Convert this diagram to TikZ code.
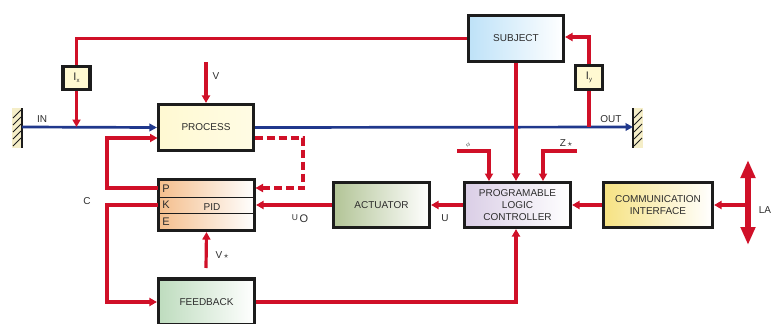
\documentclass[tikz,border=0pt]{standalone}
\usepackage{fontspec}
\setmainfont{Liberation Sans}
\usetikzlibrary{arrows.meta,calc}
\definecolor{cred}{RGB}{208,16,40}
\definecolor{cblue}{RGB}{32,56,140}
\definecolor{cbord}{RGB}{28,28,28}
\definecolor{ctext}{RGB}{45,45,45}
\definecolor{cyel}{RGB}{255,249,210}
\definecolor{cblu}{RGB}{190,226,248}
\definecolor{corg}{RGB}{244,190,140}
\definecolor{cgrn}{RGB}{190,220,190}
\definecolor{coli}{RGB}{178,196,150}
\definecolor{clav}{RGB}{218,206,230}
\definecolor{cgold}{RGB}{246,226,130}
\definecolor{cwall}{RGB}{245,238,200}
\begin{document}
\begin{tikzpicture}[x=1pt,y=-1pt,
  font=\fontsize{10}{11.8}\selectfont,
  box/.style={draw=cbord,line width=3.1pt,inner sep=0pt,align=center,text=ctext},
  lbl/.style={text=ctext,inner sep=0pt},
  sig/.style={draw=cred,line width=3.2pt},
  arr/.style={sig,-{Triangle[length=7.5pt,width=8pt]}},
  barr/.style={draw=cblue,line width=2.7pt,-{Triangle[length=7.5pt,width=7.5pt]}},
  dsig/.style={sig,dash pattern=on 8pt off 4pt},
  hatch/.style={draw=cbord,line width=1pt}]
\useasboundingbox (0,0) rectangle (772,324);

% walls
\fill[cwall] (12,108) rectangle (22,148);
\draw[cbord,line width=1.8pt] (22,108) -- (22,148);
\foreach \yy in {110,117,124,131,138} \draw[hatch] (13,\yy+8) -- (21,\yy);
\fill[cwall] (633,108) rectangle (643,148);
\draw[cbord,line width=1.8pt] (633,108) -- (633,148);
\foreach \yy in {110,117,124,131,138} \draw[hatch] (634,\yy+8) -- (642,\yy);

% nodes
\node[box,minimum width=95pt,minimum height=46pt,left color=cyel,right color=cyel!60!white] (process) at (206,127.5) {PROCESS};
\node[box,minimum width=95pt,minimum height=46pt,left color=cblu,right color=white] (subject) at (516,38.5) {SUBJECT};
\node[box,minimum width=27pt,minimum height=23pt,fill=cyel] (ix) at (76.5,78) {\fontsize{11}{11}\selectfont I\raisebox{-2pt}{\fontsize{6}{6}\selectfont x}};
\node[box,minimum width=27pt,minimum height=24pt,fill=cyel] (iy) at (589,77.5) {\fontsize{11}{11}\selectfont I\raisebox{-2pt}{\fontsize{6}{6}\selectfont y}};
\node[box,minimum width=96pt,minimum height=51pt,left color=corg,right color=white] (pid) at (206.5,205) {};
\node[box,minimum width=96pt,minimum height=46pt,left color=cgrn,right color=white] (feedback) at (206.5,302) {FEEDBACK};
\node[box,minimum width=96pt,minimum height=45pt,left color=coli,right color=white] (actuator) at (381.5,205) {ACTUATOR};
\node[box,minimum width=106pt,minimum height=45pt,left color=clav,right color=white] (plc) at (517.5,205) {PROGRAMABLE\\LOGIC\\CONTROLLER};
\node[box,minimum width=109pt,minimum height=45pt,left color=cgold,right color=white] (comm) at (658,205) {COMMUNICATION\\INTERFACE};

% PID rows
\draw[cbord,line width=1pt] (158,197) -- (255,197);
\draw[cbord,line width=1pt] (158,213) -- (255,213);
\node[lbl,font=\fontsize{11}{11}\selectfont] (pP) at (166,188.5) {P};
\node[lbl,font=\fontsize{11}{11}\selectfont] (pK) at (166,205) {K};
\node[lbl,font=\fontsize{11}{11}\selectfont] (pE) at (166,221.5) {E};
\node[lbl] (pidl) at (212,207) {PID};

% coordinates
\coordinate (wallL) at (22,127);
\coordinate (wallR) at (633,127);
\coordinate (inpt) at (76.5,127);
\coordinate (outpt) at (589,127);
\coordinate (vtop) at (206,62);
\coordinate (vstop) at (206,268);
\coordinate (pidP) at (157.5,188);
\coordinate (pidK) at (157.5,205);
\coordinate (pidPr) at (255.5,188);
\coordinate (procR) at (254.5,138);
\coordinate (procL) at (157.5,138);
\coordinate (cP) at (107,188);
\coordinate (cK) at (107,205);
\coordinate (phi0) at (457,151);
\coordinate (z0) at (577,151);
\coordinate (phiin) at (489,181);
\coordinate (zin) at (543,181);
\coordinate (la) at (748,205);
\coordinate (la1) at (748,160);
\coordinate (la2) at (748,245);

% blue line
\draw[barr] (wallL) -- (process.west);
\draw[barr] (process.east) -- (wallR);

% red connectors
\draw[sig] (subject.west) -| (ix.north);
\draw[arr] (ix.south) -- (inpt);
\draw[sig] (outpt) -- (iy.south);
\draw[arr] (iy.north) |- ([yshift=1.5pt]subject.east);
\draw[arr] (vtop) -- (process.north);
\draw[arr] (pidP) -- (cP) |- (procL);
\draw[dsig,-{Triangle[length=7.5pt,width=8pt]}] (procR) -| (303,163) |- (pidPr);
\draw[arr] (pidK) -- (cK) |- (feedback.west);
\draw[arr] (vstop) -- (pid.south);
\draw[arr] (actuator.west) -- (pid.east);
\draw[arr] (plc.west) -- (actuator.east);
\draw[arr] (comm.west) -- (plc.east);
\draw[arr] (la) -- (comm.east);
\draw[arr] (feedback.east) -| ([xshift=-1.5pt]plc.south);
\draw[arr] (subject.south) -- (subject.south |- plc.north);
\draw[arr] (phi0) -| (phiin);
\draw[arr] (z0) -| (zin);
\draw[draw=cred,line width=5.5pt,{Triangle[length=18pt,width=14pt]}-{Triangle[length=18pt,width=14pt]}] (la1) -- (la2);

% labels
\node[lbl] (tin) at (42,119) {IN};
\node[lbl] (tout) at (611,119) {OUT};
\node[lbl] (tv) at (216,76) {V};
\node[lbl] (tc) at (87,201) {C};
\node[lbl] (tvs) at (222,255) {V\,{\small$\star$}};
\node[lbl] (tuo) at (300,219) {\raisebox{2pt}{\fontsize{8.5}{8.5}\selectfont U}\,{\fontsize{11}{11}\selectfont O}};
\node[lbl] (tu) at (445,218) {U};
\node[lbl] (tphi) at (468,145) {\fontsize{6.5}{6.5}\selectfont$\phi$};
\node[lbl] (tz) at (566,143) {Z\,{\small$\star$}};
\node[lbl] (tla) at (765,210) {LA};
\end{tikzpicture}
\end{document}
